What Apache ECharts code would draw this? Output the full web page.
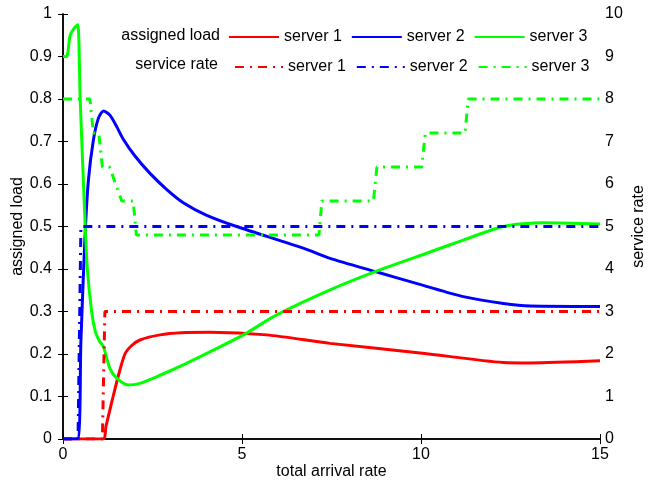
<!DOCTYPE html>
<html>
<head>
<meta charset="utf-8">
<script src="https://cdn.jsdelivr.net/npm/echarts@6/dist/echarts.min.js"></script>
<style>html,body{margin:0;padding:0;background:#fff}#c{width:656px;height:484px}</style>
</head>
<body>
<div id="c"></div>
<script>
const FONT = "'Liberation Sans', Arial, Helvetica, sans-serif";
const xTicks = [0, 5, 10, 15];
const leftTicks = [0, 0.1, 0.2, 0.3, 0.4, 0.5, 0.6, 0.7, 0.8, 0.9, 1];
const rightTicks = [0, 1, 2, 3, 4, 5, 6, 7, 8, 9, 10];

// assigned load (left axis)
const load1X = [0, 1.12, 1.2, 1.3, 1.4, 1.55, 1.73, 1.92, 2.15, 2.71, 3.3, 4.1, 5.69, 7.46, 10.04, 12.3, 13.05, 15];
const load1Y = [0, 0, 0.03, 0.065, 0.1, 0.15, 0.2, 0.22, 0.233, 0.245, 0.25, 0.251, 0.245, 0.225, 0.202, 0.18, 0.179, 0.184];
const load2X = [0, 0.4, 0.5, 0.61, 0.71, 0.85, 0.99, 1.13, 1.31, 1.5, 1.68, 2.0, 2.43, 2.9, 3.36, 4.0, 4.85, 6.71, 7.46, 8.72, 10.04, 11.18, 12.3, 13.05, 15];
const load2Y = [0, 0, 0.23, 0.468, 0.609, 0.704, 0.755, 0.772, 0.762, 0.735, 0.706, 0.667, 0.625, 0.587, 0.556, 0.527, 0.5, 0.449, 0.425, 0.394, 0.362, 0.335, 0.319, 0.313, 0.312];
const load3X = [0, 0.1, 0.2, 0.3, 0.41, 0.48, 0.62, 0.68, 0.8, 0.91, 1.03, 1.13, 1.31, 1.5, 1.82, 2.15, 2.71, 3.45, 4.2, 5.04, 5.97, 7.46, 8.72, 10.25, 11.18, 12.3, 13.4, 15];
const load3Y = [0.9, 0.9, 0.95, 0.965, 0.975, 0.8, 0.5, 0.4, 0.3, 0.251, 0.229, 0.217, 0.166, 0.143, 0.127, 0.131, 0.15, 0.178, 0.209, 0.245, 0.292, 0.351, 0.394, 0.44, 0.468, 0.5, 0.509, 0.506];

// service rate (right axis)
const rate1X = [0, 1.1, 1.17, 15];
const rate1Y = [0, 0, 3, 3];
const rate2X = [0, 0.42, 0.5, 15];
const rate2Y = [0, 0, 5, 5];
const rate3X = [0, 0.75, 0.85, 1.0, 1.1, 1.3, 1.64, 1.96, 2.05, 7.15, 7.23, 8.67, 8.77, 10.02, 10.12, 11.23, 11.32, 15];
const rate3Y = [8, 8, 7.2, 7.2, 6.4, 6.4, 5.6, 5.6, 4.8, 4.8, 5.6, 5.6, 6.4, 6.4, 7.2, 7.2, 8, 8];

const legendNames = {load1: 'server 1', load2: 'server 2', load3: 'server 3', rate1: 'server 1', rate2: 'server 2', rate3: 'server 3'};

const RED = '#ff0000', BLUE = '#0000ff', GREEN = '#00ff00';
const DASHDOT = [9, 6, 2, 6];

function pts(xs, ys) { return xs.map((x, i) => [x, ys[i]]); }
function solid(name, xs, ys, color) {
  return {name, type: 'line', xAxisIndex: 0, yAxisIndex: 0, data: pts(xs, ys), symbol: 'none', smooth: 0.25,
    lineStyle: {color, width: 3}, itemStyle: {color}, z: 2, animation: false};
}
function dashed(name, xs, ys, color) {
  return {name, type: 'line', xAxisIndex: 0, yAxisIndex: 1, data: pts(xs, ys), symbol: 'none',
    lineStyle: {color, width: 3, type: DASHDOT, cap: 'butt'}, itemStyle: {color}, z: 3, animation: false};
}

const chart = echarts.init(document.getElementById('c'), null, {renderer: 'canvas'});
const labelStyle = {color: '#000', fontFamily: FONT, fontSize: 16};
chart.setOption({
  backgroundColor: '#fff',
  animation: false,
  grid: {left: 63, right: 56, top: 14, bottom: 45, outerBoundsMode: 'none', containLabel: false},
  textStyle: {fontFamily: FONT},
  graphic: [
    {type: 'text', x: 220, y: 36, style: {text: 'assigned load', align: 'right', verticalAlign: 'middle', fill: '#000', font: '16px ' + FONT}},
    {type: 'text', x: 218, y: 65, style: {text: 'service rate', align: 'right', verticalAlign: 'middle', fill: '#000', font: '16px ' + FONT}}
  ],
  legend: [
    {data: ['load1', 'load2', 'load3'], left: 228, top: 29, padding: 0, itemWidth: 50, itemHeight: 14, itemGap: 9,
      itemStyle: {opacity: 0}, formatter: n => legendNames[n], textStyle: labelStyle},
    {data: ['rate1', 'rate2', 'rate3'], left: 234, top: 59, padding: 0, itemWidth: 48, itemHeight: 14, itemGap: 10,
      itemStyle: {opacity: 0}, formatter: n => legendNames[n], textStyle: labelStyle}
  ],
  xAxis: [
    {type: 'value', min: xTicks[0], max: xTicks[xTicks.length - 1], interval: 5, position: 'bottom',
      name: 'total arrival rate', nameLocation: 'middle', nameGap: 25, nameMoveOverlap: false, nameTextStyle: labelStyle,
      axisLine: {lineStyle: {color: '#000', width: 1.5}}, axisTick: {inside: true, length: 5, lineStyle: {color: '#000'}},
      axisLabel: {margin: 8, ...labelStyle}, splitLine: {show: false}},
    {type: 'value', min: xTicks[0], max: xTicks[xTicks.length - 1], interval: 5, position: 'top',
      axisLine: {lineStyle: {color: '#000', width: 1.5}}, axisTick: {inside: true, length: 5, lineStyle: {color: '#000'}},
      axisLabel: {show: false}, splitLine: {show: false}}
  ],
  yAxis: [
    {type: 'value', min: leftTicks[0], max: leftTicks[leftTicks.length - 1], interval: 0.1, position: 'left',
      name: 'assigned load', nameLocation: 'middle', nameGap: 37, nameMoveOverlap: false, nameTextStyle: labelStyle,
      axisLine: {show: true, lineStyle: {color: '#000', width: 1.5}}, axisTick: {show: true, inside: true, length: 5, lineStyle: {color: '#000'}},
      axisLabel: {margin: 11, ...labelStyle}, splitLine: {show: false}},
    {type: 'value', min: rightTicks[0], max: rightTicks[rightTicks.length - 1], interval: 1, position: 'right',
      name: 'service rate', nameLocation: 'middle', nameGap: 31, nameMoveOverlap: false, nameTextStyle: labelStyle,
      axisLine: {show: true, lineStyle: {color: '#000', width: 1.5}}, axisTick: {show: true, inside: true, length: 5, lineStyle: {color: '#000'}},
      axisLabel: {margin: 5, ...labelStyle}, splitLine: {show: false}}
  ],
  series: [
    solid('load1', load1X, load1Y, RED),
    solid('load2', load2X, load2Y, BLUE),
    solid('load3', load3X, load3Y, GREEN),
    dashed('rate1', rate1X, rate1Y, RED),
    dashed('rate2', rate2X, rate2Y, BLUE),
    dashed('rate3', rate3X, rate3Y, GREEN)
  ]
});
</script>
</body>
</html>
